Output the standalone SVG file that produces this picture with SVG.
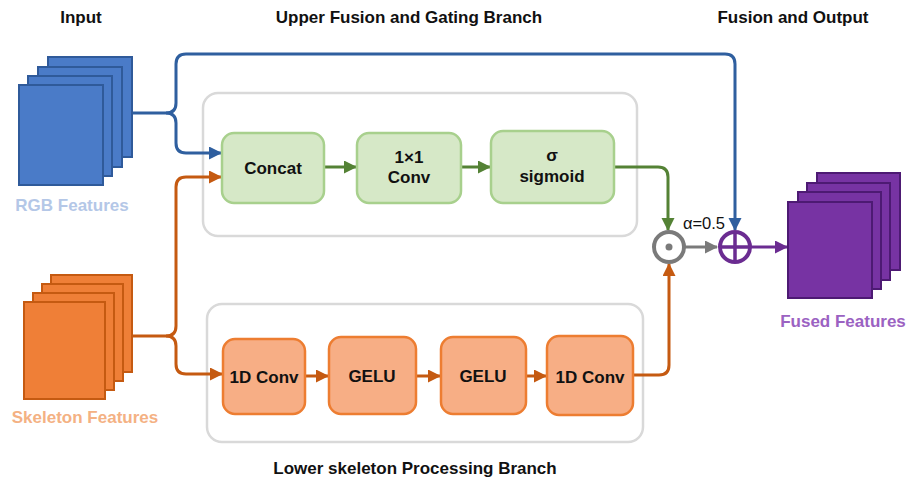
<svg xmlns="http://www.w3.org/2000/svg" width="906" height="479" viewBox="0 0 906 479">
<defs>
<style>
text{font-family:"Liberation Sans",Arial,sans-serif;font-weight:bold;text-anchor:middle}
.title{font-size:17px;fill:#111}
.lbl{font-size:17px;fill:#111}
.rgb{fill:#4a7bc8;stroke:#2f5a9a;stroke-width:2}
.skel{fill:#ef7f37;stroke:#c55a11;stroke-width:2}
.fused{fill:#7733a3;stroke:#4d1a73;stroke-width:2}
.gbox{fill:#d6e8c7;stroke:#a8d08d;stroke-width:2.5}
.obox{fill:#f7ae85;stroke:#ed7d31;stroke-width:2.5}
.cont{fill:#fff;stroke:#d9d9d9;stroke-width:2.5}
.ln{fill:none;stroke-width:3}
</style>
<marker id="aB" markerUnits="userSpaceOnUse" markerWidth="16" markerHeight="16" refX="12" refY="6.5" orient="auto"><path d="M0,0 L13,6.5 L0,13 z" fill="#2f5f9f"/></marker>
<marker id="aO" markerUnits="userSpaceOnUse" markerWidth="16" markerHeight="16" refX="12" refY="6.5" orient="auto"><path d="M0,0 L13,6.5 L0,13 z" fill="#c55a11"/></marker>
<marker id="aG" markerUnits="userSpaceOnUse" markerWidth="16" markerHeight="16" refX="12" refY="6.5" orient="auto"><path d="M0,0 L13,6.5 L0,13 z" fill="#548235"/></marker>
<marker id="aK" markerUnits="userSpaceOnUse" markerWidth="16" markerHeight="16" refX="12" refY="6.5" orient="auto"><path d="M0,0 L13,6.5 L0,13 z" fill="#7a7a7a"/></marker>
<marker id="aP" markerUnits="userSpaceOnUse" markerWidth="16" markerHeight="16" refX="12" refY="6.5" orient="auto"><path d="M0,0 L13,6.5 L0,13 z" fill="#6b2c91"/></marker>
</defs>
<rect width="906" height="479" fill="#fff"/>

<text class="title" x="81" y="23">Input</text>
<text class="title" x="409" y="23">Upper Fusion and Gating Branch</text>
<text class="title" x="793" y="23">Fusion and Output</text>
<text class="title" x="415" y="474">Lower skeleton Processing Branch</text>

<rect class="cont" x="203" y="93" width="434" height="143" rx="15"/>
<rect class="cont" x="207" y="304" width="436" height="138" rx="15"/>

<g id="connectors">
<path class="ln" stroke="#2f5f9f" d="M132,113 H166 Q176,113 176,103 V64 Q176,54 186,54 H725 Q735,54 735,64 V230" marker-end="url(#aB)"/>
<path class="ln" stroke="#2f5f9f" d="M166,113 Q176,113 176,123 V143 Q176,153 186,153 H221" marker-end="url(#aB)"/>
<path class="ln" stroke="#c55a11" d="M132,336 H166 Q176,336 176,326 V187 Q176,177 186,177 H221" marker-end="url(#aO)"/>
<path class="ln" stroke="#c55a11" d="M166,336 Q176,336 176,346 V364 Q176,374 186,374 H222" marker-end="url(#aO)"/>
<path class="ln" stroke="#548235" d="M325,167 H356" marker-end="url(#aG)"/>
<path class="ln" stroke="#548235" d="M462,167 H490" marker-end="url(#aG)"/>
<path class="ln" stroke="#548235" d="M614,167 H658 Q668,167 668,177 V230" marker-end="url(#aG)"/>
<path class="ln" stroke="#c55a11" d="M306,376 H328" marker-end="url(#aO)"/>
<path class="ln" stroke="#c55a11" d="M417,376 H440" marker-end="url(#aO)"/>
<path class="ln" stroke="#c55a11" d="M527,376 H546" marker-end="url(#aO)"/>
<path class="ln" stroke="#c55a11" d="M633,375 H659 Q669,375 669,365 V264" marker-end="url(#aO)"/>
<path class="ln" stroke="#7a7a7a" d="M685,247 H717" marker-end="url(#aK)"/>
<path class="ln" stroke="#6b2c91" d="M751,247 H787" marker-end="url(#aP)"/>
</g>

<g id="rgb">
<rect class="rgb" x="48" y="57" width="84" height="100"/>
<rect class="rgb" x="38" y="67" width="84" height="100"/>
<rect class="rgb" x="28" y="76" width="84" height="100"/>
<rect class="rgb" x="19" y="85" width="84" height="100"/>
<text x="72" y="211" style="font-size:17px;fill:#b4c7e7">RGB Features</text>
</g>

<g id="skeleton">
<rect class="skel" x="51" y="275" width="81" height="97"/>
<rect class="skel" x="42" y="284" width="81" height="97"/>
<rect class="skel" x="33" y="293" width="81" height="97"/>
<rect class="skel" x="24" y="302" width="81" height="97"/>
<text x="85" y="423" style="font-size:17px;fill:#f4b183">Skeleton Features</text>
</g>

<g id="concat"><rect class="gbox" x="222" y="133" width="102" height="70" rx="12"/><text class="lbl" x="273" y="174">Concat</text></g>
<g id="conv1x1"><rect class="gbox" x="357" y="133" width="104" height="70" rx="12"/><text class="lbl" x="409" y="163">1×1</text><text class="lbl" x="409" y="183">Conv</text></g>
<g id="sigmoid"><rect class="gbox" x="491" y="131" width="123" height="72" rx="12"/><text class="lbl" x="552" y="161">σ</text><text class="lbl" x="552" y="182">sigmoid</text></g>

<g id="conv1d1"><rect class="obox" x="223" y="339" width="82" height="75" rx="12"/><text class="lbl" x="264" y="383">1D Conv</text></g>
<g id="gelu1"><rect class="obox" x="329" y="337" width="87" height="77" rx="12"/><text class="lbl" x="372" y="382">GELU</text></g>
<g id="gelu2"><rect class="obox" x="441" y="337" width="85" height="77" rx="12"/><text class="lbl" x="483" y="382">GELU</text></g>
<g id="conv1d2"><rect class="obox" x="547" y="336" width="86" height="79" rx="12"/><text class="lbl" x="590" y="383">1D Conv</text></g>

<g id="odot">
<circle cx="669" cy="247" r="15" fill="#fff" stroke="#7a7a7a" stroke-width="4"/>
<circle cx="669" cy="247" r="3.5" fill="#7a7a7a"/>
</g>
<text x="704" y="229" style="font-size:16.5px;font-weight:normal;fill:#111">α=0.5</text>
<g id="oplus">
<circle cx="735" cy="247" r="15" fill="#fff" stroke="#6b2c91" stroke-width="4"/>
<path d="M720,247 H750 M735,232 V262" stroke="#6b2c91" stroke-width="3.5"/>
</g>

<g id="fused">
<rect class="fused" x="817" y="173" width="83" height="97"/>
<rect class="fused" x="807" y="183" width="83" height="97"/>
<rect class="fused" x="798" y="192" width="83" height="97"/>
<rect class="fused" x="788" y="202" width="84" height="96"/>
<text x="843" y="327" style="font-size:17px;fill:#9b62c2">Fused Features</text>
</g>
</svg>
